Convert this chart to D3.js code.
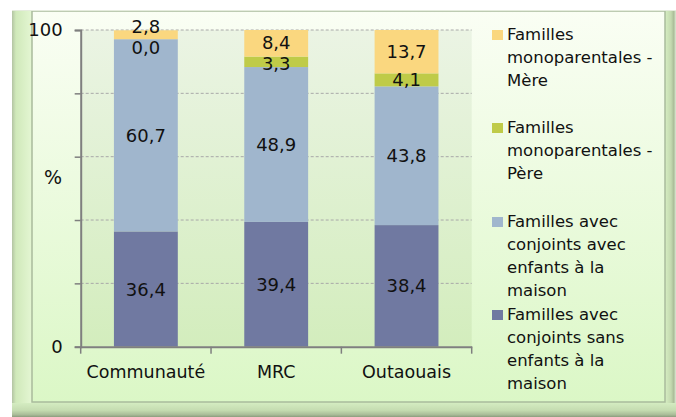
<!DOCTYPE html>
<html>
<head>
<meta charset="utf-8">
<script src="https://cdn.jsdelivr.net/npm/d3@7"></script>
<style>
  body { margin: 0; background: #fff; }
  svg { display: block; }
  text { font-family: "DejaVu Sans", sans-serif; fill: #111; }
</style>
</head>
<body>
<div id="chart"></div>
<script>
// categories and series (in %)
const categories = ["Communauté", "MRC", "Outaouais"];
const seriesNames = [
    "Familles avec conjoints sans enfants à la maison",
    "Familles avec conjoints avec enfants à la maison",
    "Familles monoparentales - Père",
    "Familles monoparentales - Mère"
];
const sansEnfants = [36.4, 39.4, 38.4];
const avecEnfants = [60.7, 48.9, 43.8];
const monoPere = [0.0, 3.3, 4.1];
const monoMere = [2.8, 8.4, 13.7];
const colors = ["#7079a1", "#a0b6cd", "#bfcb48", "#fad77f"];

// legend lines (top -> bottom, as in the picture)
const legendLines = [
    ["Familles", "monoparentales -", "Mère"],
    ["Familles", "monoparentales -", "Père"],
    ["Familles avec", "conjoints avec", "enfants à la", "maison"],
    ["Familles avec", "conjoints sans", "enfants à la", "maison"]
];
const yTicks = [0, 20, 40, 60, 80, 100];

const W = 676, H = 417;
const svg = d3.select("#chart").append("svg").attr("width", W).attr("height", H);
const defs = svg.append("defs");

function grad(id, stops, horizontal) {
    const g = defs.append("linearGradient").attr("id", id)
        .attr("x1", 0).attr("y1", 0)
        .attr("x2", horizontal ? 1 : 0).attr("y2", horizontal ? 0 : 1);
    stops.forEach(s => g.append("stop").attr("offset", s[0]).attr("stop-color", s[1]));
}
grad("panel", [[0, "#fafef4"], [1, "#dbf7c6"]]);
grad("plotbg", [[0, "#ebf4e4"], [1, "#d3edbd"]]);
grad("bevL", [[0, "#b3c4a3"], [0.2, "#d0e9ba"], [1, "#e4f6d3"]], true);
grad("bevR", [[0, "#d6eec2"], [0.55, "#c3d9af"], [0.8, "#aabd98"], [1, "#dfe9d5"]], true);
grad("bevB", [[0, "#d6eec3"], [0.55, "#c5dcb1"], [0.85, "#a9bc98"], [1, "#8c9c7e"]]);

// frame (bevels)
svg.append("rect").attr("x", 12).attr("y", 10).attr("width", W - 12).attr("height", H - 10)
    .attr("fill", "#d3eabf");
svg.append("rect").attr("x", 12).attr("y", 402).attr("width", W - 12).attr("height", H - 402)
    .attr("fill", "url(#bevB)");
svg.append("rect").attr("x", 12).attr("y", 10).attr("width", 20).attr("height", 393)
    .attr("fill", "url(#bevL)");
svg.append("rect").attr("x", 665).attr("y", 10).attr("width", 11).attr("height", 393)
    .attr("fill", "url(#bevR)");
svg.append("rect").attr("x", 32).attr("y", 11).attr("width", 633).attr("height", 391)
    .attr("fill", "url(#panel)")
    .attr("stroke", "#a9bb9c").attr("stroke-width", 1.5);
svg.append("line").attr("x1", 12).attr("x2", W).attr("y1", 10.5).attr("y2", 10.5)
    .attr("stroke", "#e4ebdc").attr("stroke-width", 1);

// scales
const x = d3.scaleBand().domain(categories).range([80.7, 471.7]).paddingInner(0).paddingOuter(0);
const y = d3.scaleLinear().domain([0, 100]).range([346.7, 30]);
const barW = x.bandwidth() * 0.49;

const plot = svg.append("g");
plot.append("rect")
    .attr("x", x.range()[0]).attr("y", y(100))
    .attr("width", x.range()[1] - x.range()[0]).attr("height", y(0) - y(100))
    .attr("fill", "url(#plotbg)");

// gridlines
plot.append("g").selectAll("line")
    .data(yTicks.filter(d => d > 0))
    .join("line")
    .attr("x1", x.range()[0]).attr("x2", x.range()[1])
    .attr("y1", d => y(d)).attr("y2", d => y(d))
    .attr("stroke", "#a9a9a9").attr("stroke-width", 1)
    .attr("stroke-dasharray", "3,2");

// stacked data
const table = categories.map((c, i) => ({
    cat: c, s0: sansEnfants[i], s1: avecEnfants[i], s2: monoPere[i], s3: monoMere[i]
}));
const stack = d3.stack().keys(["s0", "s1", "s2", "s3"])(table);

const layers = plot.append("g").selectAll("g")
    .data(stack)
    .join("g")
    .attr("fill", (d, i) => colors[i]);

layers.selectAll("rect")
    .data(d => d)
    .join("rect")
    .attr("x", d => x(d.data.cat) + (x.bandwidth() - barW) / 2)
    .attr("y", d => y(d[1]))
    .attr("width", barW)
    .attr("height", d => y(d[0]) - y(d[1]));

// value labels, pushed apart when two are too close in the same bar
const fmt = v => d3.format(".1f")(v).replace(".", ",");
const minGap = 21;
const labels = [];
categories.forEach((c, ci) => {
    const col = stack.map(s => ({ cat: c, v: s[ci].data[s.key], cy: (y(s[ci][0]) + y(s[ci][1])) / 2 }));
    for (let k = 1; k < col.length; k++) {
        const a = col[k - 1], b = col[k];
        if (a.cy - b.cy < minGap) {
            const mid = (a.cy + b.cy) / 2;
            a.cy = mid + minGap / 2;
            b.cy = mid - minGap / 2;
        }
    }
    labels.push(...col);
});
plot.append("g").selectAll("text")
    .data(labels)
    .join("text")
    .attr("x", d => x(d.cat) + x.bandwidth() / 2)
    .attr("y", d => d.cy)
    .attr("text-anchor", "middle")
    .attr("dominant-baseline", "central")
    .attr("font-size", 18)
    .text(d => fmt(d.v));

// y axis
const yAxis = svg.append("g")
    .attr("transform", `translate(${x.range()[0]},0)`)
    .call(d3.axisLeft(y).tickValues(yTicks).tickSize(6).tickFormat(d => (d === 0 || d === 100) ? d : ""));
yAxis.select(".domain").attr("stroke", "#7f7f7f").attr("stroke-width", 2);
yAxis.selectAll(".tick line").attr("stroke", "#7f7f7f").attr("stroke-width", 1.5);
yAxis.selectAll(".tick text")
    .attr("font-size", 18).attr("x", -18).attr("fill", "#111")
    .style("font-family", "'DejaVu Sans', sans-serif");

svg.append("text").attr("x", 53).attr("y", 177)
    .attr("text-anchor", "middle").attr("dominant-baseline", "central")
    .attr("font-size", 19).text("%");

// x axis
const xAxis = svg.append("g")
    .attr("transform", `translate(0,${y(0)})`)
    .call(d3.axisBottom(x).tickSize(0).tickPadding(19));
xAxis.select(".domain").attr("stroke", "#7f7f7f").attr("stroke-width", 2);
xAxis.selectAll(".tick text")
    .attr("font-size", 17.5).attr("fill", "#111")
    .style("font-family", "'DejaVu Sans', sans-serif");
const bounds = categories.map(c => x(c)).concat([x.range()[1]]);
xAxis.append("g").selectAll("line")
    .data(bounds)
    .join("line")
    .attr("x1", d => d).attr("x2", d => d)
    .attr("y1", 0).attr("y2", 7)
    .attr("stroke", "#7f7f7f").attr("stroke-width", 1.5);

// legend
const legendY = [40, 133, 227, 320];
const legendColors = [colors[3], colors[2], colors[1], colors[0]];
const legend = svg.append("g");
legendLines.forEach((lines, i) => {
    const g = legend.append("g").attr("transform", `translate(492,${legendY[i]})`);
    g.append("rect").attr("x", 0).attr("y", -10).attr("width", 11).attr("height", 10)
        .attr("fill", legendColors[i]);
    g.append("text").attr("x", 15).attr("font-size", 16.5)
        .selectAll("tspan").data(lines).join("tspan")
        .attr("x", 15).attr("dy", (d, j) => j === 0 ? 0 : 23)
        .text(d => d);
});
</script>
</body>
</html>
